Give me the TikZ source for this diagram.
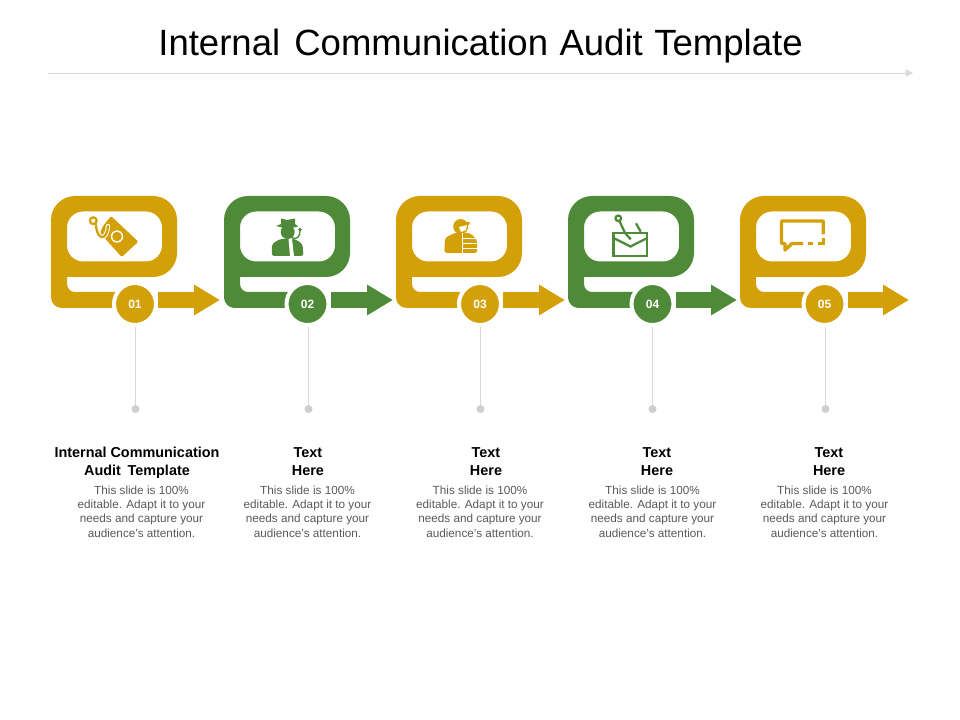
\documentclass[tikz,border=0pt]{standalone}
\usepackage{fontspec}
\setmainfont{Liberation Sans}
\usetikzlibrary{positioning, arrows.meta}
\definecolor{gold}{HTML}{D3A008}
\definecolor{leaf}{HTML}{4E8A37}
\definecolor{stemgray}{HTML}{D9D9D9}
\definecolor{dotgray}{HTML}{CFCFCF}
\definecolor{bodygray}{HTML}{595959}

\begin{document}
\begin{tikzpicture}[
    x=0.75pt, y=-0.75pt,
    loopframe/.pic={
        \path[pic actions, even odd rule]
            (16,81) [rounded corners=6pt] -- (16,96) -- (84,96) [sharp corners] -- (84,112)
            [rounded corners=8pt] -- (0,112) [rounded corners=18pt] -- (0,0) -- (126,0) -- (126,81)
            [sharp corners] -- cycle
            [rounded corners=12pt] (16,15.5) rectangle (111,65.5);
    },
    num/.style={circle, draw=white, line width=3pt, minimum size=31.5pt, inner sep=0pt, text=white, font=\bfseries\fontsize{9}{11}\selectfont},
    arr/.style={line width=12pt, -{Triangle[length=19.5pt, width=21.75pt]}},
    stem/.style={draw=stemgray, line width=0.6pt},
    enddot/.style={circle, fill=dotgray, minimum size=6pt, inner sep=0pt},
    head/.style={align=center, font=\bfseries\fontsize{10.8}{13.5}\selectfont},
    body/.style={align=center, text=bodygray, font=\fontsize{8.8}{10.8}\selectfont},
    iconline/.style={line width=1.7pt, fill=none}
]
\useasboundingbox (0,0) rectangle (960,720);

% Title
\node[font=\fontsize{27.4}{33}\selectfont] (title) at (480.5,46) {Internal\hspace{3pt} Communication\hspace{1pt} Audit\hspace{1pt} Template};
\coordinate (rulestart) at (48,73);
\coordinate (ruleend) at (913,73);
\draw[stem, -{Triangle[length=5.5pt, width=5.5pt]}] (rulestart) -- (ruleend);

% Frames
\pic[fill=gold] at (51,196) {loopframe};
\pic[fill=leaf] at (224,196) {loopframe};
\pic[fill=gold] at (396,196) {loopframe};
\pic[fill=leaf] at (568,196) {loopframe};
\pic[fill=gold] at (740,196) {loopframe};

% Numbers
\node[num, fill=gold] (n1) at (135,304) {01};
\node[num, fill=leaf] (n2) at (307.5,304) {02};
\node[num, fill=gold] (n3) at (480,304) {03};
\node[num, fill=leaf] (n4) at (652.5,304) {04};
\node[num, fill=gold] (n5) at (824.5,304) {05};

% Arrow tips
\coordinate (t1) at (220,300);
\coordinate (t2) at (393,300);
\coordinate (t3) at (565,300);
\coordinate (t4) at (737,300);
\coordinate (t5) at (909,300);
\draw[arr, draw=gold, color=gold] (n1.east |- t1) -- (t1);
\draw[arr, draw=leaf, color=leaf] (n2.east |- t2) -- (t2);
\draw[arr, draw=gold, color=gold] (n3.east |- t3) -- (t3);
\draw[arr, draw=leaf, color=leaf] (n4.east |- t4) -- (t4);
\draw[arr, draw=gold, color=gold] (n5.east |- t5) -- (t5);

% Stems
\node[enddot] (d1) at (135.5,409) {};
\node[enddot] (d2) at (308.5,409) {};
\node[enddot] (d3) at (480.5,409) {};
\node[enddot] (d4) at (652.5,409) {};
\node[enddot] (d5) at (825.5,409) {};
\draw[stem] (d1) -- (d1 |- n1.south);
\draw[stem] (d2) -- (d2 |- n2.south);
\draw[stem] (d3) -- (d3 |- n3.south);
\draw[stem] (d4) -- (d4 |- n4.south);
\draw[stem] (d5) -- (d5 |- n5.south);

% Icon 1: bill and stethoscope
\fill[gold, rounded corners=1pt] (111,216) -- (138.3,241.7) -- (121.7,257) -- (100,233) -- (103,226) -- cycle;
\fill[white] (117,236.5) circle[radius=6.2];
\fill[gold] (117,236.5) circle[radius=4.8];
\draw[white, line width=3.2pt, line cap=round] (96,225) .. controls (97,241) and (107,241) .. (108,226);
\draw[gold, iconline, line cap=round] (96,225) .. controls (97,241) and (107,241) .. (108,226);
\draw[gold, iconline] (93.3,220.7) circle[radius=3.4];

% Icon 2: man with hat
\fill[leaf, rounded corners=2pt] (271.7,256) -- (272,244) -- (280,239) -- (295,239) -- (302.5,244) -- (303.5,256) -- cycle;
\fill[leaf] (287.7,232) circle[radius=7];
\fill[leaf] (276,226) -- (281,224) -- (281,218.5) -- (287,220) -- (295,218.5) -- (295,224) -- (298,226.5) -- (288,229) -- cycle;
\fill[white] (288.5,239) -- (292,239) -- (294,256) -- (290,256) -- cycle;
\draw[leaf, line width=1pt] (291,237) .. controls (298,241) and (300,236) .. (300,230);
\fill[leaf] (300,229.5) circle[radius=1.9];

% Icon 3: man with striped side
\fill[gold, rounded corners=2pt] (444.3,253) -- (445,238) -- (454,233) -- (470,233) -- (477,240) -- (477.3,253) -- cycle;
\fill[gold] (460.7,226.5) circle[radius=7.5];
\fill[white] (459,227) -- (467,225) -- (466,230) -- (461,232) -- cycle;
\fill[gold] (462,222.5) -- (470,222) -- (469,225) -- (462,225.5) -- cycle;
\draw[white, line width=1pt] (462,238.5) -- (478,238.5);
\draw[white, line width=1pt] (462,243.5) -- (478,243.5);
\draw[white, line width=1pt] (462,248.5) -- (478,248.5);
\draw[white, line width=0.7pt] (462,233) -- (462,253);

% Icon 4: envelope and hook
\draw[leaf, iconline] (613.5,232.7) rectangle (647.3,255.7);
\draw[leaf, iconline] (613.5,238) -- (630.5,246.5) -- (647.3,238);
\draw[leaf, iconline] (618.3,218.3) circle[radius=2.8];
\draw[leaf, iconline] (619.5,221) -- (625,233) -- (630,238.5);
\fill[leaf] (630,238.5) circle[radius=1.6];
\draw[leaf, iconline] (636,223.3) -- (640.7,231.7);

% Icon 5: speech bubble
\draw[gold, line width=2.5pt] (818,243.8) -- (823.3,243.8);
\draw[gold, line width=2.5pt] (823.3,238.5) -- (823.3,245);
\draw[gold, line width=2.5pt, line join=round] (823.3,234.5) -- (823.3,221) -- (781.5,221) -- (781.5,243.5) -- (785,243.5) -- (785,250) -- (792,243.5) -- (803,243.5);
\draw[gold, line width=2.5pt] (807.5,243.8) -- (812.7,243.8);

% Headings
\node[head] (h1) at (137,463) {Internal Communication\\Audit\hspace{2pt} Template};
\node[head] (h2) at (308,461.5) {Text\\Here};
\node[head] (h3) at (486,461.5) {Text\\Here};
\node[head] (h4) at (657,461.5) {Text\\Here};
\node[head] (h5) at (829,461.5) {Text\\Here};

% Body text
\node[body] (b1) at (141.5,511.5) {This slide is 100\%\\editable. Adapt it to your\\needs and capture your\\audience's attention.};
\node[body] (b2) at (307.5,511.5) {This slide is 100\%\\editable. Adapt it to your\\needs and capture your\\audience's attention.};
\node[body] (b3) at (480,511.5) {This slide is 100\%\\editable. Adapt it to your\\needs and capture your\\audience's attention.};
\node[body] (b4) at (652.5,511.5) {This slide is 100\%\\editable. Adapt it to your\\needs and capture your\\audience's attention.};
\node[body] (b5) at (824.5,511.5) {This slide is 100\%\\editable. Adapt it to your\\needs and capture your\\audience's attention.};
\end{tikzpicture}
\end{document}
